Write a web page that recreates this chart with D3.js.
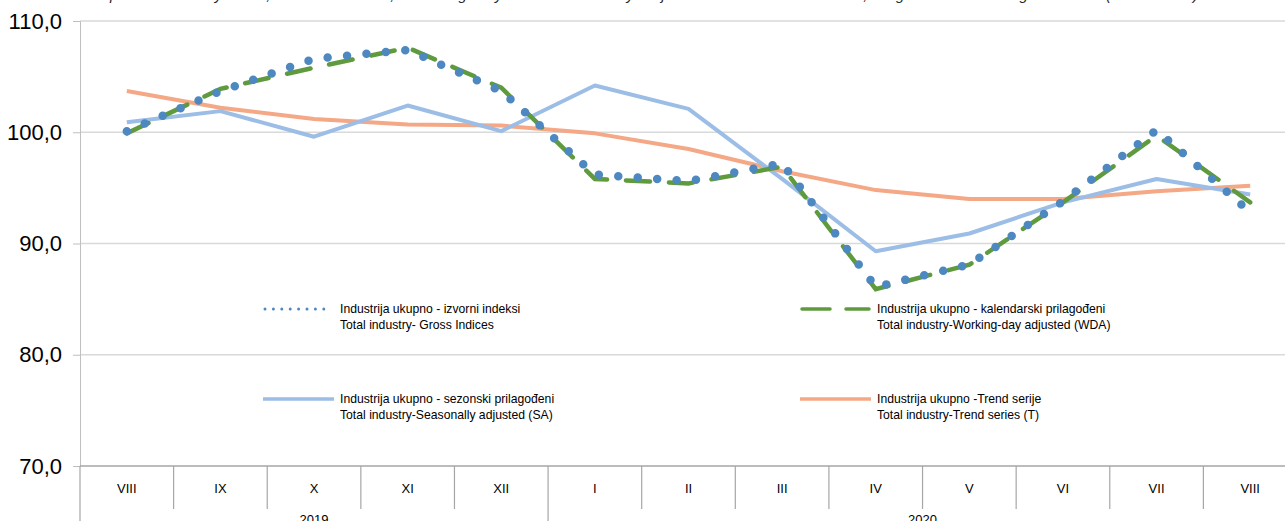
<!DOCTYPE html>
<html>
<head>
<meta charset="utf-8">
<script src="https://cdn.jsdelivr.net/npm/d3@7"></script>
<style>
  body { margin: 0; background: #fff; }
  svg { display: block; font-family: "Liberation Sans", Arial, sans-serif; }
</style>
</head>
<body>
<svg id="chart" width="1285" height="521"></svg>
<script>
// data
const months = ["VIII", "IX", "X", "XI", "XII", "I", "II", "III", "IV", "V", "VI", "VII", "VIII"];
const years = [{label: "2019", from: 0, to: 4}, {label: "2020", from: 5, to: 12}];
const gross = [100.1, 103.7, 106.6, 107.4, 103.7, 96.2, 95.6, 97.2, 86.1, 88.1, 93.8, 100.2, 92.8];
const wda   = [99.9, 103.9, 105.8, 107.6, 104.0, 95.8, 95.4, 96.9, 85.9, 88.1, 93.7, 99.7, 93.7];
const sa    = [100.9, 101.9, 99.6, 102.4, 100.1, 104.2, 102.1, 95.8, 89.3, 90.9, 93.7, 95.8, 94.4];
const trend = [103.7, 102.2, 101.2, 100.7, 100.6, 99.9, 98.5, 96.5, 94.8, 94.0, 94.0, 94.7, 95.2];
const yTicks = [70, 80, 90, 100, 110];

const title = "Graph 1. Industry total, Gross indices, Working-day and Seasonally adjusted indices and Trend, August 2019 – August 2020 (2015=100)";

const svg = d3.select("#chart");
const plotL = 80, plotR = 1297, plotT = 21, plotB = 466;

const x = d3.scaleBand().domain(d3.range(months.length)).range([plotL, plotR]);
const y = d3.scaleLinear().domain([70, 110]).range([plotB, plotT]);
const cx = i => x(i) + x.bandwidth() / 2;

// title, mostly cut off at the top edge like in the source
svg.append("text")
  .attr("x", 80).attr("y", 0)
  .attr("font-size", 15).attr("font-style", "italic")
  .attr("fill", "#262626")
  .attr("textLength", 1118).attr("lengthAdjust", "spacing")
  .text(title);

// gridlines
svg.append("g").selectAll("line")
  .data(yTicks.filter(d => d !== 70))
  .enter().append("line")
  .attr("x1", plotL).attr("x2", plotR)
  .attr("y1", d => y(d)).attr("y2", d => y(d))
  .attr("stroke", "#d9d9d9").attr("stroke-width", 1.3);

// y axis
const yAxis = svg.append("g").attr("transform", `translate(${plotL},0)`)
  .call(d3.axisLeft(y).tickValues(yTicks).tickSize(7).tickPadding(11)
    .tickFormat(d => d3.format(".1f")(d).replace(".", ",")));
yAxis.select(".domain").attr("stroke", "#bfbfbf");
yAxis.selectAll(".tick line").attr("stroke", "#bfbfbf");
yAxis.selectAll("text").attr("font-size", 22).attr("fill", "#000")
  .attr("font-family", "'Liberation Sans', Arial, sans-serif");

// x axis line
svg.append("line")
  .attr("x1", plotL).attr("x2", plotR)
  .attr("y1", plotB).attr("y2", plotB)
  .attr("stroke", "#a6a6a6").attr("stroke-width", 1.3);

// category separators
const seps = d3.range(months.length + 1);
svg.append("g").selectAll("line")
  .data(seps)
  .enter().append("line")
  .attr("x1", i => i < months.length ? x(i) : plotR)
  .attr("x2", i => i < months.length ? x(i) : plotR)
  .attr("y1", plotB)
  .attr("y2", i => (i === 0 || i === 5 || i === months.length) ? 530 : 509)
  .attr("stroke", "#a6a6a6").attr("stroke-width", 1.2);

svg.append("g").selectAll("text")
  .data(months)
  .enter().append("text")
  .attr("x", (d, i) => cx(i)).attr("y", 493)
  .attr("text-anchor", "middle").attr("font-size", 13).attr("fill", "#000")
  .text(d => d);

svg.append("g").selectAll("text")
  .data(years)
  .enter().append("text")
  .attr("x", d => (x(d.from) + x(d.to) + x.bandwidth()) / 2).attr("y", 524)
  .attr("text-anchor", "middle").attr("font-size", 13).attr("fill", "#000")
  .text(d => d.label);

// lines
const line = d3.line().x((d, i) => cx(i)).y(d => y(d));

svg.append("path").datum(trend)
  .attr("d", line).attr("fill", "none")
  .attr("stroke", "#f4a886").attr("stroke-width", 4).attr("stroke-linejoin", "round");

svg.append("path").datum(sa)
  .attr("d", line).attr("fill", "none")
  .attr("stroke", "#9bbde6").attr("stroke-width", 4).attr("stroke-linejoin", "round");

svg.append("path").datum(wda)
  .attr("d", line).attr("fill", "none")
  .attr("stroke", "#5f9a3e").attr("stroke-width", 4.5)
  .attr("stroke-dasharray", "24,19").attr("stroke-linecap", "round");

svg.append("path").datum(gross)
  .attr("d", line).attr("fill", "none")
  .attr("stroke", "#4d88c0").attr("stroke-width", 8.5)
  .attr("stroke-dasharray", "0,19.5").attr("stroke-linecap", "round");

// legend
const legend = [
  {lx: 263, ly: 309, color: "#4d88c0", w: 3, dash: "0,8.4", cap: "round",
   t1: "Industrija ukupno - izvorni indeksi", t2: "Total industry- Gross Indices"},
  {lx: 800, ly: 309, color: "#5f9a3e", w: 3.5, dash: "28,16", cap: "round",
   t1: "Industrija ukupno - kalendarski prilagođeni", t2: "Total industry-Working-day adjusted (WDA)"},
  {lx: 263, ly: 399, color: "#9bbde6", w: 3.5, dash: null, cap: "butt",
   t1: "Industrija ukupno - sezonski prilagođeni", t2: "Total industry-Seasonally adjusted (SA)"},
  {lx: 800, ly: 399, color: "#f4a886", w: 3.5, dash: null, cap: "butt",
   t1: "Industrija ukupno -Trend serije", t2: "Total industry-Trend series (T)"}
];

const lg = svg.append("g").selectAll("g")
  .data(legend)
  .enter().append("g")
  .attr("transform", d => `translate(${d.lx},${d.ly})`);

lg.append("line")
  .attr("x1", d => d.cap === "round" ? 2 : 0).attr("x2", d => d.cap === "round" ? 69 : 71)
  .attr("y1", 0).attr("y2", 0)
  .attr("stroke", d => d.color).attr("stroke-width", d => d.w)
  .attr("stroke-dasharray", d => d.dash).attr("stroke-linecap", d => d.cap);

lg.append("text")
  .attr("x", 77).attr("y", 4)
  .attr("font-size", 12.2).attr("fill", "#000")
  .text(d => d.t1);

lg.append("text")
  .attr("x", 77).attr("y", 20)
  .attr("font-size", 12.2).attr("fill", "#000")
  .text(d => d.t2);
</script>
</body>
</html>
